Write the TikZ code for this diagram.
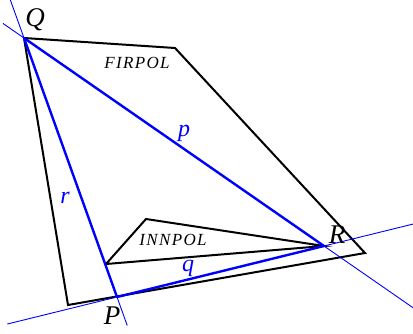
\documentclass[tikz,border=0pt]{standalone}
\usepackage{fontspec}
\setmainfont{Liberation Serif}
\usetikzlibrary{calc}
\tikzset{
  poly/.style={draw=black, line width=2pt, line join=miter},
  seg/.style={draw=blue, line width=2.4pt},
  ext/.style={draw=blue, line width=0.9pt},
  ptlabel/.style={font=\fontsize{27}{27}\selectfont\itshape, inner sep=0pt},
  seglabel/.style={font=\fontsize{24}{24}\selectfont\itshape, text=blue, inner sep=0pt},
  polylabel/.style={font=\fontsize{17}{17}\selectfont\itshape\addfontfeature{LetterSpace=8}, inner sep=0pt}
}
\begin{document}
\begin{tikzpicture}[x=1pt, y=-1pt]
\useasboundingbox (0,0) rectangle (413,333);
\clip (0,0) rectangle (413,333);
% points
\coordinate (Q) at (24,38);
\coordinate (P) at (117,297);
\coordinate (R) at (324,246);
\coordinate (A) at (175,48);
\coordinate (B) at (365,253);
\coordinate (C) at (68,305);
\coordinate (D) at (106,264);
\coordinate (E) at (146,219);
% extension ends
\coordinate (QPtop) at ($(P)!1.16!(Q)$);
\coordinate (QPbot) at ($(Q)!1.11!(P)$);
\coordinate (QRup) at ($(R)!1.07!(Q)$);
\coordinate (QRdn) at ($(Q)!1.31!(R)$);
\coordinate (PRlt) at ($(R)!1.53!(P)$);
\coordinate (PRrt) at ($(P)!1.44!(R)$);
% polygons
\draw[poly] (Q) -- (A) -- (B) -- (C) -- cycle;
\draw[poly] (D) -- (E) -- (R) -- cycle;
% thin extension lines
\draw[ext] (QPtop) -- (QPbot);
\draw[ext] (QRup) -- (QRdn);
\draw[ext] (PRlt) -- (PRrt);
% thick segments
\draw[seg] (Q) -- (R);
\draw[seg] (Q) -- (P);
\draw[seg] (P) -- (R);
% labels
\node[ptlabel] (lQ) at (35,20) {Q};
\node[ptlabel] (lR) at (337,235) {R};
\node[ptlabel] (lP) at (112,316) {P};
\node[seglabel] (lp) at (184,133) {p};
\node[seglabel] (lr) at (65,198) {r};
\node[seglabel] (lq) at (188,268) {q};
\node[polylabel] (lF) at (137,63) {FIRPOL};
\node[polylabel] (lI) at (173,240) {INNPOL};
\end{tikzpicture}
\end{document}
